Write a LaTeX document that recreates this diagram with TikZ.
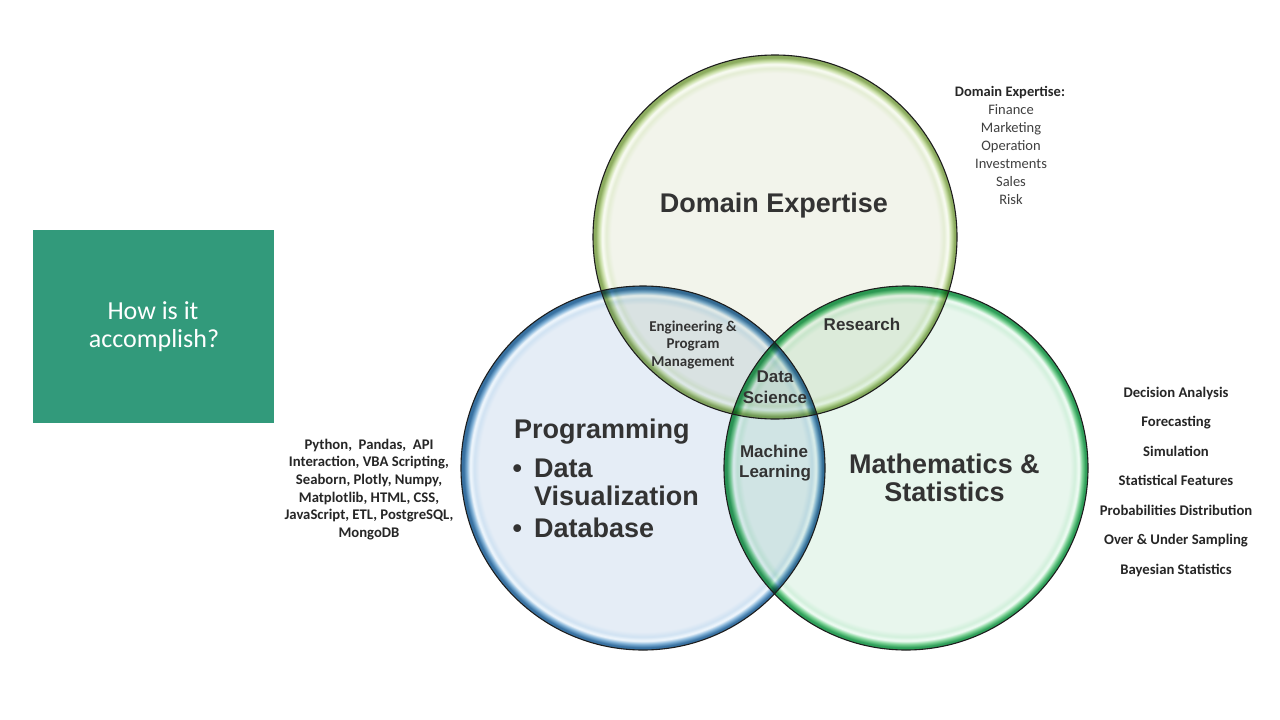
\documentclass[tikz,border=0pt]{standalone}
\usepackage{fontspec}
\setmainfont{Liberation Sans}
\newfontfamily\calib{Carlito}

% text and box colours
\definecolor{ink}{RGB}{51,51,51}
\definecolor{listink}{RGB}{38,38,38}
\definecolor{itemink}{RGB}{64,64,64}
\definecolor{boxgreen}{RGB}{50,154,123}
\definecolor{rimline}{RGB}{30,30,30}

% Domain Expertise circle
\definecolor{dFill}{RGB}{242,244,235}
\definecolor{dLight}{RGB}{228,237,212}
\definecolor{dHi}{RGB}{250,252,245}
\definecolor{dMid}{RGB}{200,222,165}
\definecolor{dDark}{RGB}{140,172,95}
% Programming circle
\definecolor{pFill}{RGB}{229,237,246}
\definecolor{pLight}{RGB}{208,226,242}
\definecolor{pHi}{RGB}{242,248,253}
\definecolor{pMid}{RGB}{130,178,215}
\definecolor{pDark}{RGB}{55,112,160}
% Mathematics & Statistics circle
\definecolor{mFill}{RGB}{232,246,237}
\definecolor{mLight}{RGB}{210,240,220}
\definecolor{mHi}{RGB}{242,252,246}
\definecolor{mMid}{RGB}{125,210,150}
\definecolor{mDark}{RGB}{45,158,88}

% bevelled rims: flat fill, light glow, highlight ring, darker edge band
\pgfdeclareradialshading{domainrim}{\pgfpointorigin}{%
  color(0bp)=(dFill); color(22.5bp)=(dFill); color(23.2bp)=(dLight);
  color(23.75bp)=(dHi); color(24.2bp)=(dMid); color(24.65bp)=(dDark);
  color(25bp)=(dDark); color(50bp)=(dDark)}
\pgfdeclareradialshading{progrim}{\pgfpointorigin}{%
  color(0bp)=(pFill); color(22.5bp)=(pFill); color(23.2bp)=(pLight);
  color(23.75bp)=(pHi); color(24.2bp)=(pMid); color(24.65bp)=(pDark);
  color(25bp)=(pDark); color(50bp)=(pDark)}
\pgfdeclareradialshading{mathrim}{\pgfpointorigin}{%
  color(0bp)=(mFill); color(22.5bp)=(mFill); color(23.2bp)=(mLight);
  color(23.75bp)=(mHi); color(24.2bp)=(mMid); color(24.65bp)=(mDark);
  color(25bp)=(mDark); color(50bp)=(mDark)}

\tikzset{
  outline/.style={draw=rimline, line width=1.1pt},
  biglabel/.style={font=\fontsize{27}{30}\selectfont\bfseries, text=ink, inner sep=0pt, anchor=base},
  midlabel/.style={font=\fontsize{17}{20}\selectfont\bfseries, text=ink, inner sep=0pt, anchor=base},
  lenslabel/.style={font=\calib\fontsize{15}{18}\selectfont\bfseries, text=ink, inner sep=0pt, anchor=base},
  toollist/.style={font=\calib\fontsize{14.7}{18}\selectfont\bfseries, text=listink, inner sep=0pt, anchor=base},
  domhead/.style={font=\calib\fontsize{14.5}{18}\selectfont\bfseries, text=listink, inner sep=0pt, anchor=base},
  domitem/.style={font=\calib\fontsize{14.5}{18}\selectfont, text=itemink, inner sep=0pt, anchor=base},
  questionbox/.style={fill=boxgreen, inner sep=0pt, minimum width=241pt, minimum height=193pt},
  questiontext/.style={font=\calib\fontsize{26}{29}\selectfont, text=white, inner sep=0pt, anchor=base}
}

\begin{document}
\begin{tikzpicture}[x=1pt, y=-1pt]
  \useasboundingbox (0,0) rectangle (1280,720);
  \fill[white] (0,0) rectangle (1280,720);

  % the three overlapping circles
  \begin{scope}[blend mode=multiply]
    \shade[shading=domainrim] (775,237) circle[radius=182];
    \shade[shading=progrim] (643,468) circle[radius=182];
    \shade[shading=mathrim] (906,468) circle[radius=182];
  \end{scope}
  \draw[outline] (775,237) circle[radius=182];
  \draw[outline] (643,468) circle[radius=182];
  \draw[outline] (906,468) circle[radius=182];

  % question box
  \node[questionbox] (qbox) at (153.5,326.5) {};
  \node[questiontext] (q1) at (153,319) {How is it};
  \node[questiontext] (q2) at (154,347.7) {accomplish?};

  % circle titles
  \node[biglabel] (domain) at (774,212) {Domain Expertise};
  \node[biglabel, anchor=base west] (prog) at (514,438) {Programming};
  \node[biglabel, anchor=base west] (bul1) at (512.5,477) {•};
  \node[biglabel, anchor=base west] (pdata) at (534,477) {Data};
  \node[biglabel, anchor=base west] (pvis) at (534,505) {Visualization};
  \node[biglabel, anchor=base west] (bul2) at (512.5,537) {•};
  \node[biglabel, anchor=base west] (pdb) at (534,537) {Database};
  \node[biglabel] (math1) at (944.5,473) {Mathematics \&};
  \node[biglabel] (math2) at (944.5,501) {Statistics};

  % overlap labels
  \node[midlabel] (research) at (862,330) {Research};
  \node[midlabel] (ds1) at (775,382) {Data};
  \node[midlabel] (ds2) at (775,403) {Science};
  \node[midlabel] (ml1) at (774,457) {Machine};
  \node[midlabel] (ml2) at (775,477) {Learning};
  \node[lenslabel] (eng1) at (693,331) {Engineering \&};
  \node[lenslabel] (eng2) at (693,348.5) {Program};
  \node[lenslabel] (eng3) at (693,366) {Management};

  % programming tools
  \foreach \t [count=\i] in {{Python,\ \ Pandas,\ \ API}, {Interaction, VBA Scripting,},
      {Seaborn, Plotly, Numpy,}, {Matplotlib, HTML, CSS,},
      {JavaScript, ETL, PostgreSQL,}, {MongoDB}}
    \node[toollist] (tool\i) at (369,{449.3+17.6*(\i-1)}) {\t};

  % domain areas
  \node[domhead] (domlist) at (1010,96.7) {Domain Expertise:};
  \foreach \t [count=\i] in {Finance, Marketing, Operation, Investments, Sales, Risk}
    \node[domitem] (dom\i) at (1011,{114.3+18*(\i-1)}) {\t};

  % mathematics and statistics topics
  \foreach \t [count=\i] in {Decision Analysis, Forecasting, Simulation,
      Statistical Features, Probabilities Distribution,
      Over \& Under Sampling, Bayesian Statistics}
    \node[toollist] (stat\i) at (1176,{397.3+29.5*(\i-1)}) {\t};
\end{tikzpicture}
\end{document}
